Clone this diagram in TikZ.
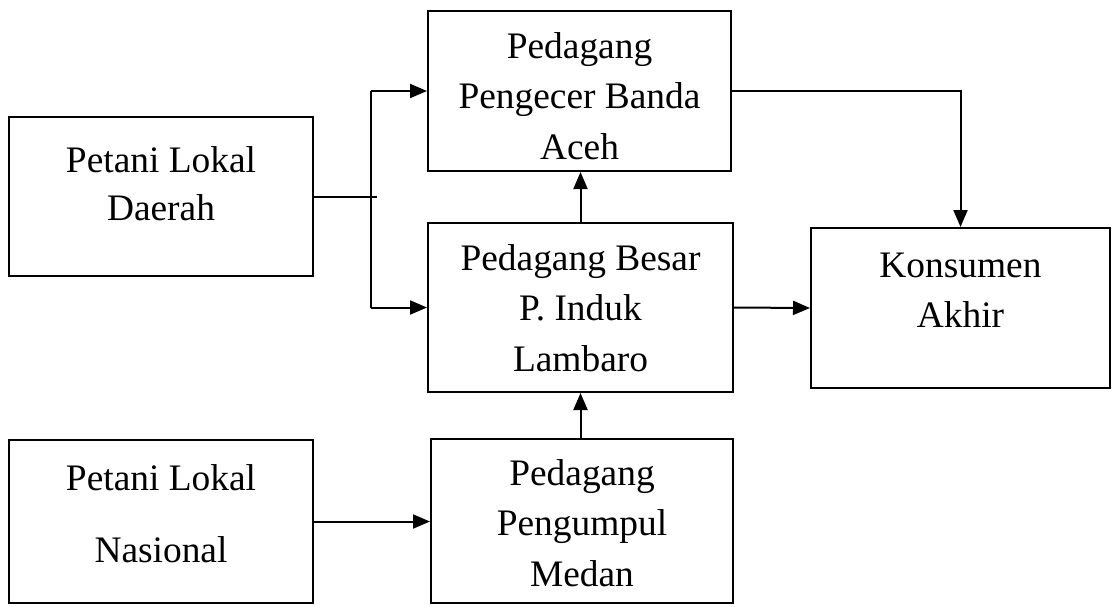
\documentclass[tikz,border=0pt]{standalone}
\usepackage{fontspec}
\setmainfont{Liberation Serif}
\usetikzlibrary{arrows.meta}
\begin{document}
\begin{tikzpicture}[x=0.5pt,y=-0.5pt,
  box/.style={draw=black,line width=1pt,rectangle,inner sep=0pt},
  lbl/.style={anchor=base,text width=145pt,align=flush center,inner sep=0pt,
    font=\fontsize{18.7}{25.3}\selectfont},
  conn/.style={draw=black,line width=1pt},
  arr/.style={conn,-{Triangle[length=8.5pt,width=7pt]}}]
\useasboundingbox (0,0) rectangle (1112,606);
\fill[white] (0,0) rectangle (1112,606);
% boxes
\node[box,minimum width=152pt,minimum height=79.5pt] (daerah) at (161,196.5) {};
\node[box,minimum width=151.5pt,minimum height=80pt] (pengecer) at (579.5,91) {};
\node[box,minimum width=152.5pt,minimum height=84.5pt] (besar) at (580.5,307.5) {};
\node[box,minimum width=149.5pt,minimum height=80pt] (konsumen) at (960.5,308) {};
\node[box,minimum width=152pt,minimum height=81.5pt] (nasional) at (161,521.5) {};
\node[box,minimum width=151pt,minimum height=82pt] (medan) at (582,521) {};
% labels
\node[lbl,font=\fontsize{18.7}{24}\selectfont] (tdaerah) at (161,172) {Petani Lokal\\Daerah};
\node[lbl] (tpengecer) at (579.5,58) {Pedagang\\Pengecer Banda\\Aceh};
\node[lbl] (tbesar) at (580.5,270) {Pedagang Besar\\P. Induk\\Lambaro};
\node[lbl] (tkonsumen) at (960.5,277) {Konsumen\\Akhir};
\node[lbl,font=\fontsize{18.7}{36}\selectfont] (tnasional) at (161,490) {Petani Lokal\\Nasional};
\node[lbl] (tmedan) at (582,485) {Pedagang\\Pengumpul\\Medan};
% connectors
\coordinate (jx) at (371,0);
\coordinate (jend) at (377,196.5);
\draw[conn] (daerah.east) -- (jend);
\draw[conn] (jx |- pengecer.west) -- (jx |- besar.west);
\draw[arr] (jx |- pengecer.west) -- (pengecer.west);
\draw[arr] (jx |- besar.west) -- (besar.west);
\draw[arr] (besar.north) -- (besar.north |- pengecer.south);
\draw[arr] (pengecer.east) -| (konsumen.north);
\draw[arr] (besar.east) -- (konsumen.west);
\draw[arr] (besar.south |- medan.north) -- (besar.south);
\draw[arr] (nasional.east) -- (nasional.east -| medan.west);
\end{tikzpicture}
\end{document}
